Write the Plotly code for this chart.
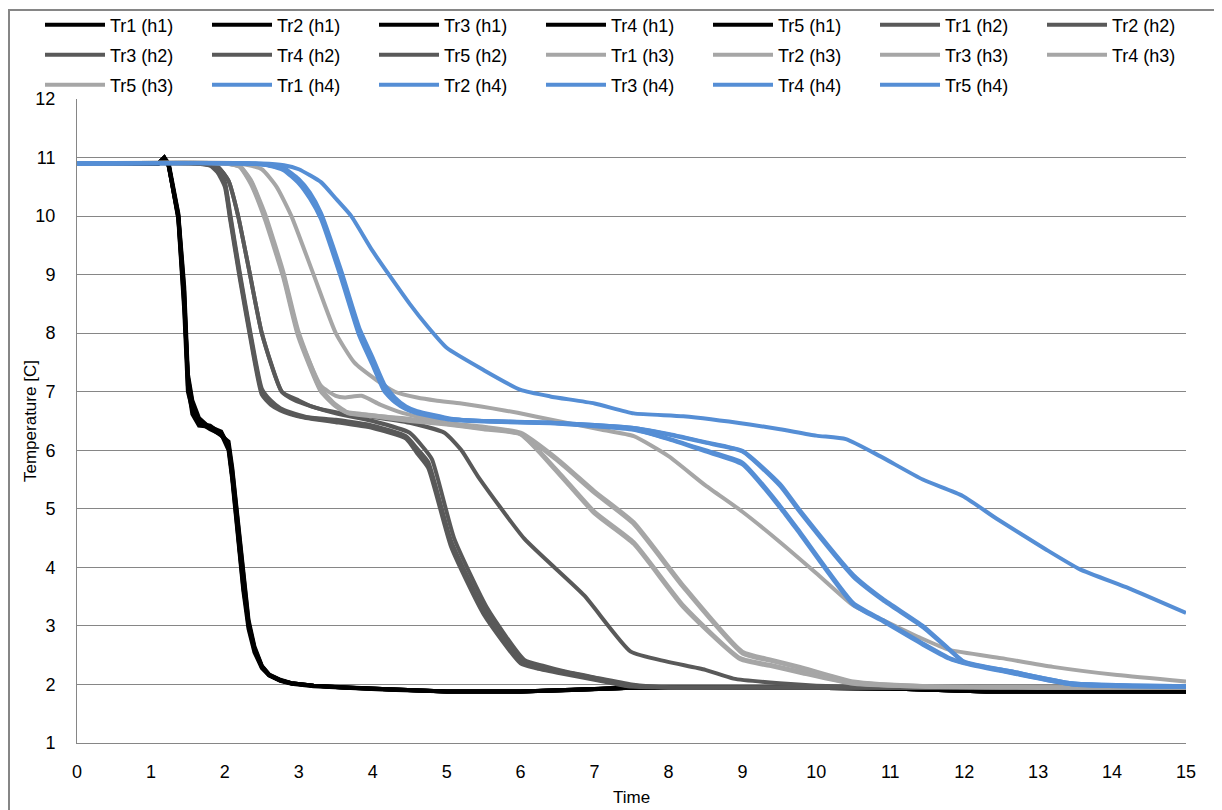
import plotly.graph_objects as go

# ---------------- data ----------------
# h1 (black)
H1_TIME = [0, 1.1, 1.18, 1.24, 1.37, 1.45, 1.5, 1.56, 1.65, 1.8, 1.95, 2.05, 2.1, 2.15, 2.2, 2.25, 2.32, 2.4, 2.5, 2.6, 2.75, 2.9, 3.2, 3.6, 4.2, 5.0, 6.0, 6.6, 7.2, 7.6, 9.0, 11.0, 12.3, 13.5, 15]
H1_TR1 = [10.9, 10.9, 11.0, 10.85, 10.0, 8.6, 7.2, 6.75, 6.5, 6.4, 6.3, 6.1, 5.6, 5.0, 4.3, 3.7, 3.0, 2.6, 2.3, 2.16, 2.07, 2.02, 1.98, 1.95, 1.92, 1.88, 1.88, 1.9, 1.93, 1.95, 1.95, 1.93, 1.88, 1.88, 1.88]
H1_TR2 = [10.9, 10.9, 10.98, 10.88, 9.95, 8.4, 7.0, 6.7, 6.45, 6.42, 6.28, 6.0, 5.5, 4.9, 4.2, 3.6, 2.95, 2.55, 2.28, 2.15, 2.06, 2.01, 1.97, 1.94, 1.91, 1.88, 1.88, 1.9, 1.93, 1.95, 1.95, 1.93, 1.88, 1.88, 1.88]
H1_TR3 = [10.9, 10.9, 11.0, 10.9, 10.05, 8.8, 7.3, 6.85, 6.55, 6.38, 6.25, 6.15, 5.7, 5.1, 4.4, 3.8, 3.1, 2.65, 2.32, 2.17, 2.08, 2.02, 1.98, 1.95, 1.92, 1.88, 1.88, 1.9, 1.93, 1.95, 1.95, 1.93, 1.88, 1.88, 1.88]
H1_TR4 = [10.9, 10.9, 10.99, 10.87, 10.02, 8.7, 7.1, 6.62, 6.42, 6.4, 6.32, 6.05, 5.55, 4.95, 4.25, 3.65, 3.05, 2.6, 2.3, 2.16, 2.07, 2.02, 1.98, 1.95, 1.92, 1.88, 1.88, 1.9, 1.93, 1.95, 1.95, 1.93, 1.88, 1.88, 1.88]
H1_TR5 = [10.9, 10.9, 11.0, 10.86, 9.98, 8.5, 7.25, 6.8, 6.48, 6.36, 6.27, 6.08, 5.65, 5.05, 4.35, 3.75, 3.05, 2.62, 2.31, 2.16, 2.07, 2.02, 1.98, 1.95, 1.92, 1.88, 1.88, 1.9, 1.93, 1.95, 1.95, 1.93, 1.88, 1.88, 1.88]

# h2 (dark grey)
H2_FAST_TIME = [0, 1.6, 1.8, 1.9, 2.0, 2.07, 2.2, 2.34, 2.5, 2.62, 2.75, 2.88, 3.1, 3.5, 4.0, 4.45, 4.6, 4.75, 5.06, 5.5, 6.0, 6.2, 6.5, 7.0, 7.45, 8.0, 10, 12, 15]
H2_TR1 = [10.9, 10.9, 10.87, 10.78, 10.55, 10.0, 9.0, 8.0, 7.0, 6.82, 6.7, 6.63, 6.56, 6.5, 6.4, 6.22, 6.0, 5.75, 4.4, 3.25, 2.4, 2.3, 2.22, 2.1, 1.98, 1.95, 1.95, 1.95, 1.95]
H2_TR2 = [10.9, 10.9, 10.86, 10.75, 10.5, 9.95, 8.95, 7.95, 6.95, 6.78, 6.68, 6.62, 6.55, 6.48, 6.38, 6.2, 5.95, 5.7, 4.35, 3.2, 2.36, 2.28, 2.2, 2.08, 1.97, 1.95, 1.95, 1.95, 1.95]
H2_TR3 = [10.9, 10.9, 10.88, 10.8, 10.58, 10.05, 9.05, 8.05, 7.05, 6.85, 6.72, 6.65, 6.57, 6.52, 6.42, 6.24, 6.03, 5.8, 4.45, 3.3, 2.42, 2.32, 2.24, 2.11, 1.99, 1.95, 1.95, 1.95, 1.95]
H2_TR4_TIME = [0, 1.7, 1.9, 2.05, 2.18, 2.34, 2.5, 2.77, 2.95, 3.17, 3.5, 4.0, 4.5, 4.65, 4.8, 5.1, 5.55, 6.05, 6.3, 6.6, 7.0, 7.5, 8.0, 10, 12, 15]
H2_TR4 = [10.9, 10.9, 10.85, 10.6, 10.0, 9.0, 8.0, 7.0, 6.85, 6.75, 6.63, 6.5, 6.3, 6.1, 5.85, 4.5, 3.3, 2.42, 2.32, 2.22, 2.12, 2.0, 1.95, 1.95, 1.95, 1.95]
H2_TR5_TIME = [0, 1.7, 1.9, 2.05, 2.18, 2.34, 2.5, 2.77, 3.0, 3.17, 3.5, 4.0, 4.5, 4.97, 5.2, 5.42, 6.05, 6.86, 7.49, 7.98, 8.5, 8.88, 9.5, 10, 11, 15]
H2_TR5 = [10.9, 10.9, 10.85, 10.6, 10.0, 9.0, 8.0, 7.0, 6.85, 6.75, 6.65, 6.57, 6.47, 6.3, 6.0, 5.56, 4.49, 3.52, 2.56, 2.39, 2.25, 2.1, 2.02, 1.98, 1.95, 1.95]

# h3 (light grey)
H3_TR1_TIME = [0, 2.2, 2.5, 2.7, 2.9, 3.2, 3.5, 3.75, 4.05, 4.3, 4.6, 4.85, 5.2, 5.6, 5.96, 6.5, 7.1, 7.53, 8.0, 8.5, 9.0, 9.51, 10.0, 10.5, 10.9, 11.4, 11.8, 12.5, 13.2, 14.07, 15]
H3_TR1 = [10.9, 10.9, 10.8, 10.5, 10.0, 9.0, 8.0, 7.5, 7.2, 7.0, 6.9, 6.85, 6.8, 6.72, 6.64, 6.5, 6.35, 6.24, 5.9, 5.4, 4.95, 4.43, 3.9, 3.35, 3.1, 2.8, 2.59, 2.45, 2.3, 2.16, 2.05]
H3_A_TIME = [0, 2.0, 2.2, 2.35, 2.54, 2.79, 2.99, 3.3, 3.5, 3.62, 3.85, 4.1, 4.4, 5.0, 5.5, 6.0, 6.5, 7.0, 7.53, 8.2, 9.0, 9.4, 9.78, 10.5, 11.5, 13, 15]
H3_TR2 = [10.9, 10.9, 10.85, 10.6, 10.0, 9.0, 8.0, 7.1, 6.93, 6.9, 6.93, 6.78, 6.64, 6.47, 6.4, 6.3, 5.85, 5.3, 4.77, 3.69, 2.56, 2.42, 2.3, 2.05, 1.97, 1.95, 1.95]
H3_TR3 = [10.9, 10.9, 10.84, 10.55, 9.95, 8.95, 7.95, 7.0, 6.75, 6.66, 6.62, 6.58, 6.55, 6.46, 6.38, 6.28, 5.82, 5.27, 4.74, 3.66, 2.53, 2.4, 2.28, 2.04, 1.97, 1.95, 1.95]
H3_B_TIME = [0, 2.0, 2.2, 2.35, 2.54, 2.79, 2.99, 3.3, 3.5, 3.67, 4.0, 4.5, 5.0, 5.5, 6.0, 6.5, 7.0, 7.53, 8.2, 8.97, 9.4, 9.78, 10.5, 11.5, 13, 15]
H3_TR4 = [10.9, 10.9, 10.86, 10.62, 10.05, 9.05, 8.05, 7.05, 6.78, 6.64, 6.6, 6.52, 6.45, 6.37, 6.28, 5.65, 4.95, 4.43, 3.35, 2.45, 2.33, 2.22, 2.02, 1.96, 1.95, 1.95]
H3_TR5 = [10.9, 10.9, 10.85, 10.58, 10.0, 9.0, 8.0, 7.02, 6.76, 6.63, 6.58, 6.5, 6.44, 6.36, 6.27, 5.62, 4.92, 4.4, 3.32, 2.43, 2.31, 2.2, 2.01, 1.96, 1.95, 1.95]

# h4 (blue)
H4_TIME = [0, 2.3, 2.6, 2.8, 3.0, 3.15, 3.3, 3.57, 3.82, 4.0, 4.16, 4.3, 4.45, 4.6, 5.06, 5.5, 6.4, 7.0, 7.53, 8.0, 8.5, 9.0, 9.51, 9.78, 10.5, 10.9, 11.44, 11.8, 12.0, 12.65, 13.46, 15]
H4_TR1 = [10.9, 10.9, 10.87, 10.8, 10.6, 10.35, 10.0, 9.0, 8.0, 7.5, 7.05, 6.85, 6.72, 6.65, 6.53, 6.5, 6.47, 6.43, 6.38, 6.27, 6.13, 5.98, 5.39, 4.94, 3.84, 3.44, 2.98, 2.59, 2.38, 2.22, 2.02, 1.97]
H4_TR2 = [10.9, 10.9, 10.88, 10.82, 10.63, 10.4, 10.05, 9.08, 8.08, 7.58, 7.12, 6.9, 6.75, 6.67, 6.54, 6.5, 6.47, 6.43, 6.38, 6.28, 6.14, 5.99, 5.42, 4.97, 3.87, 3.46, 3.0, 2.6, 2.39, 2.22, 2.02, 1.97]
H4_TR3 = [10.9, 10.9, 10.87, 10.8, 10.6, 10.35, 10.0, 9.0, 8.0, 7.5, 7.05, 6.85, 6.72, 6.65, 6.53, 6.5, 6.47, 6.42, 6.36, 6.2, 6.0, 5.79, 5.05, 4.6, 3.39, 3.1, 2.7, 2.45, 2.37, 2.2, 2.0, 1.96]
H4_TR4 = [10.9, 10.9, 10.86, 10.78, 10.56, 10.3, 9.95, 8.95, 7.95, 7.45, 7.0, 6.82, 6.7, 6.63, 6.52, 6.49, 6.46, 6.41, 6.35, 6.19, 5.98, 5.76, 5.02, 4.57, 3.36, 3.08, 2.68, 2.44, 2.36, 2.19, 2.0, 1.96]
H4_TR5_TIME = [0, 2.5, 2.8, 3.0, 3.3, 3.5, 3.71, 4.0, 4.5, 4.75, 5.0, 5.5, 6.0, 6.4, 7.0, 7.53, 8.2, 9.1, 9.51, 10.0, 10.4, 10.86, 11.44, 11.98, 12.44, 13.1, 13.56, 14.23, 15]
H4_TR5 = [10.9, 10.9, 10.87, 10.8, 10.58, 10.3, 10.0, 9.4, 8.5, 8.1, 7.75, 7.37, 7.03, 6.92, 6.8, 6.63, 6.58, 6.44, 6.36, 6.25, 6.19, 5.9, 5.5, 5.22, 4.83, 4.31, 3.97, 3.64, 3.22]

X_TICKS = list(range(0, 16))
Y_TICKS = list(range(1, 13))

COLORS = {"h1": "#000000", "h2": "#595959", "h3": "#a6a6a6", "h4": "#558ed5"}

SERIES = [
    ("Tr1 (h1)", "h1", H1_TIME, H1_TR1, "legend"),
    ("Tr2 (h1)", "h1", H1_TIME, H1_TR2, "legend"),
    ("Tr3 (h1)", "h1", H1_TIME, H1_TR3, "legend"),
    ("Tr4 (h1)", "h1", H1_TIME, H1_TR4, "legend"),
    ("Tr5 (h1)", "h1", H1_TIME, H1_TR5, "legend"),
    ("Tr1 (h2)", "h2", H2_FAST_TIME, H2_TR1, "legend"),
    ("Tr2 (h2)", "h2", H2_FAST_TIME, H2_TR2, "legend"),
    ("Tr3 (h2)", "h2", H2_FAST_TIME, H2_TR3, "legend2"),
    ("Tr4 (h2)", "h2", H2_TR4_TIME, H2_TR4, "legend2"),
    ("Tr5 (h2)", "h2", H2_TR5_TIME, H2_TR5, "legend2"),
    ("Tr1 (h3)", "h3", H3_TR1_TIME, H3_TR1, "legend2"),
    ("Tr2 (h3)", "h3", H3_A_TIME, H3_TR2, "legend2"),
    ("Tr3 (h3)", "h3", H3_A_TIME, H3_TR3, "legend2"),
    ("Tr4 (h3)", "h3", H3_B_TIME, H3_TR4, "legend2"),
    ("Tr5 (h3)", "h3", H3_B_TIME, H3_TR5, "legend3"),
    ("Tr1 (h4)", "h4", H4_TIME, H4_TR1, "legend3"),
    ("Tr2 (h4)", "h4", H4_TIME, H4_TR2, "legend3"),
    ("Tr3 (h4)", "h4", H4_TIME, H4_TR3, "legend3"),
    ("Tr4 (h4)", "h4", H4_TIME, H4_TR4, "legend3"),
    ("Tr5 (h4)", "h4", H4_TR5_TIME, H4_TR5, "legend3"),
]

FONT = "Liberation Sans, Arial, sans-serif"
GRID = "#868686"

fig = go.Figure()
for name, grp, tx, ty, leg in SERIES:
    smooth = grp != "h1"
    fig.add_trace(go.Scatter(
        x=tx, y=ty, name=name, mode="lines",
        line=dict(color=COLORS[grp], width=4,
                  shape="spline" if smooth else "linear",
                  smoothing=0.5 if smooth else None),
        legend=leg,
    ))

# The page body adds an 8px offset; work in screen pixels and convert.
OFF = 8
W, H = 1222 - OFF, 810 - OFF
L, R, T, B = 77 - OFF, 1186 - OFF, 99 - OFF, 743 - OFF  # plot area in figure pixels
def px(xs):
    return (xs - OFF - L) / (R - L)
def py(ys):
    return (B - (ys - OFF)) / (B - T)

legend_common = dict(
    orientation="h", entrywidth=92, entrywidthmode="pixels",
    xanchor="left", yanchor="middle", x=px(40),
    font=dict(family=FONT, size=18, color="#000000"),
    bgcolor="rgba(0,0,0,0)", itemwidth=60, traceorder="normal",
)

fig.update_layout(
    width=W, height=H,
    margin=dict(l=L, r=W - R, t=T, b=H - B, autoexpand=False),
    paper_bgcolor="white", plot_bgcolor="white",
    font=dict(family=FONT, size=18, color="#000000"),
    showlegend=True,
    legend=dict(legend_common, y=py(25)),
    legend2=dict(legend_common, y=py(55)),
    legend3=dict(legend_common, y=py(85)),
    xaxis=dict(
        range=[0, 15], tickvals=X_TICKS, showgrid=False, zeroline=False,
        showline=True, linecolor=GRID, linewidth=1, ticks="",
        ticklabelstandoff=12, tickfont=dict(size=18),
    ),
    yaxis=dict(
        range=[1, 12], tickvals=Y_TICKS, showgrid=True, gridcolor=GRID, gridwidth=1,
        zeroline=False, showline=True, linecolor=GRID, linewidth=1, ticks="",
        ticklabelstandoff=17, tickfont=dict(size=18),
    ),
    annotations=[
        dict(text="Temperature [C]", x=px(30), y=0.5, xref="paper", yref="paper",
             textangle=-90, showarrow=False, font=dict(size=17),
             xanchor="center", yanchor="middle"),
        dict(text="Time", x=0.5, y=py(797), xref="paper", yref="paper",
             showarrow=False, font=dict(size=17), xanchor="center", yanchor="middle"),
    ],
    shapes=[
        dict(type="rect", xref="paper", yref="paper",
             x0=px(9), x1=px(1240), y0=py(830), y1=py(10),
             line=dict(color=GRID, width=2), fillcolor="rgba(0,0,0,0)", layer="below"),
    ],
)

fig.write_html("out.html")
